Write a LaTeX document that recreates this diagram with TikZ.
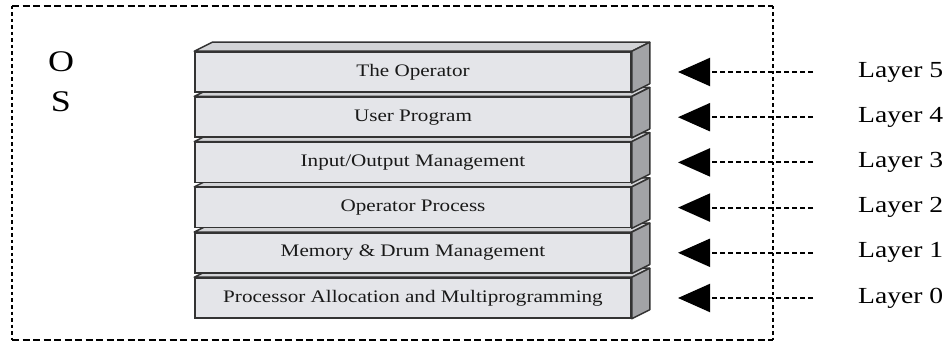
\documentclass[tikz,border=0pt]{standalone}
\usepackage{fontspec}
\setmainfont[FakeStretch=1.2]{Liberation Serif}
\usetikzlibrary{arrows.meta,calc}
\definecolor{barfront}{HTML}{E4E5E9}
\definecolor{bartop}{HTML}{D2D3D6}
\definecolor{barside}{HTML}{A2A3A6}
\definecolor{edge}{HTML}{333333}
\tikzset{
  barbox/.style={draw=edge, line width=1.5pt, fill=barfront, minimum width=436pt, minimum height=40pt, inner sep=0pt, font=\fontsize{17.6}{18}\selectfont, text=black!90},
  facetop/.style={draw=edge, line width=1.5pt, fill=bartop, line join=round},
  faceside/.style={draw=edge, line width=1.5pt, fill=barside, line join=round},
  layerlbl/.style={anchor=west, inner sep=0pt, font=\fontsize{23}{23}\selectfont, text=black},
  ptr/.style={line width=2pt, dash pattern=on 5pt off 3pt, -{Triangle[length=32pt,width=28pt]}},
  frameh/.style={line width=2.6pt, dash pattern=on 7pt off 3.5pt},
  framev/.style={line width=2.6pt, dash pattern=on 3.5pt off 3pt},
}
\begin{document}
\begin{tikzpicture}[x=1pt,y=-1pt]
\useasboundingbox (0,0) rectangle (952,344);
% outer frame
\draw[frameh] (12,6) -- (773,6);
\draw[frameh] (12,340) -- (773,340);
\draw[framev] (12,6) -- (12,340);
\draw[framev] (773,6) -- (773,340);
% OS letters
\node[font=\fontsize{30}{30}\selectfont, anchor=base, inner sep=0pt] (o) at (61,72) {O};
\node[font=\fontsize{30}{30}\selectfont, anchor=base, inner sep=0pt] (s) at (61,112) {S};
% bars, bottom first
\foreach \i/\txt in {5/{Processor Allocation and Multiprogramming},4/{Memory \& Drum Management},3/{Operator Process},2/{Input/Output Management},1/{User Program},0/{The Operator}}{
  \pgfmathsetmacro{\yc}{72+45.2*\i}
  \node[barbox] (b\i) at (413,\yc) {\txt};
  \draw[facetop] (b\i.north west) -- ++(18,-9) -- ($(b\i.north east)+(18,-9)$) -- (b\i.north east) -- cycle;
  \draw[faceside] (b\i.north east) -- ++(18,-9) -- ($(b\i.south east)+(18,-9)$) -- (b\i.south east) -- cycle;
}
% layer labels and arrows
\foreach \i/\n in {0/5,1/4,2/3,3/2,4/1,5/0}{
  \pgfmathsetmacro{\yc}{72+45.2*\i}
  \node[layerlbl] (L\n) at (858,\yc) {Layer \n};
  \coordinate (t\n) at (678,\yc);
  \draw[ptr] ([xshift=-45pt]L\n.west) -- (t\n);
}
\end{tikzpicture}
\end{document}
